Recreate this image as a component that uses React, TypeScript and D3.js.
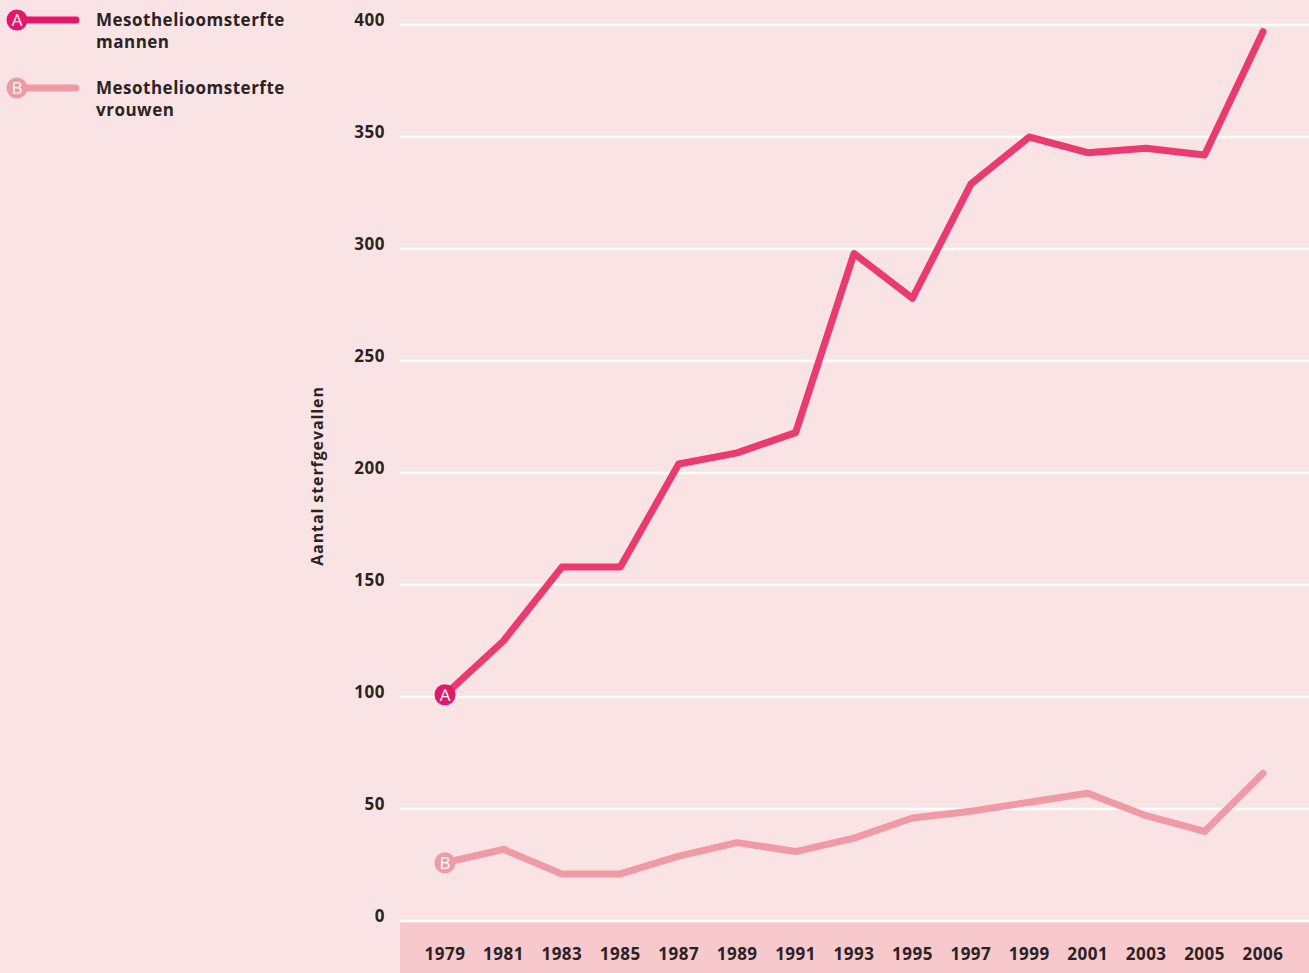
import React, { useEffect, useRef } from "react";
import * as d3 from "d3";

const years = ["1979", "1981", "1983", "1985", "1987", "1989", "1991", "1993", "1995", "1997", "1999", "2001", "2003", "2005", "2006"];
const mannen = [101, 125, 158, 158, 204, 209, 218, 298, 278, 329, 350, 343, 345, 342, 397];
const vrouwen = [26, 32, 21, 21, 29, 35, 31, 37, 46, 49, 53, 57, 47, 40, 66];
const yTicks = [0, 50, 100, 150, 200, 250, 300, 350, 400];

const W = 1309;
const H = 973;
const FONT = "'Open Sans', Lato, sans-serif";
const BG = "#fae3e4";
const BAND = "#f7c9cd";
const COL_A = "#ea3a70";
const DOT_A = "#e5176a";
const COL_B = "#f09aa6";
const TEXT = "#2a2326";

const App = () => {
  const ref = useRef<SVGSVGElement>(null);

  useEffect(() => {
    const svg = d3.select(ref.current);
    svg.selectAll("*").remove();

    const left = 400;
    const right = W;
    const y = d3.scaleLinear().domain([0, 400]).range([921, 25]);
    const x = d3.scalePoint().domain(years).range([445, 1263]);

    svg.append("rect").attr("width", W).attr("height", H).attr("fill", BG);
    svg.append("rect").attr("x", left).attr("y", y(0)).attr("width", right - left).attr("height", H - y(0)).attr("fill", BAND);

    // gridlines
    svg
      .selectAll(".grid")
      .data(yTicks)
      .enter()
      .append("line")
      .attr("x1", left)
      .attr("x2", right)
      .attr("y1", (d) => y(d))
      .attr("y2", (d) => y(d))
      .attr("stroke", "#fff")
      .attr("stroke-width", 2.6);

    svg
      .selectAll(".ytick")
      .data(yTicks)
      .enter()
      .append("text")
      .attr("x", 385)
      .attr("y", (d) => y(d) + 1)
      .attr("text-anchor", "end")
      .attr("font-family", FONT)
      .attr("font-weight", 700)
      .attr("font-size", 17)
      .attr("letter-spacing", 0.5)
      .attr("fill", TEXT)
      .text((d) => d);

    svg
      .selectAll(".xtick")
      .data(years)
      .enter()
      .append("text")
      .attr("x", (d) => x(d)!)
      .attr("y", 960)
      .attr("text-anchor", "middle")
      .attr("font-family", FONT)
      .attr("font-weight", 700)
      .attr("font-size", 17)
      .attr("letter-spacing", 0.5)
      .attr("fill", TEXT)
      .text((d) => d);

    svg
      .append("text")
      .attr("transform", `translate(323,476) rotate(-90)`)
      .attr("text-anchor", "middle")
      .attr("font-family", FONT)
      .attr("font-weight", 700)
      .attr("font-size", 16)
      .attr("letter-spacing", 0.9)
      .attr("fill", TEXT)
      .text("Aantal sterfgevallen");

    const line = d3
      .line<number>()
      .x((_, i) => x(years[i])!)
      .y((d) => y(d));

    const series = [
      { vals: vrouwen, col: COL_B, dot: COL_B, label: "B" },
      { vals: mannen, col: COL_A, dot: DOT_A, label: "A" },
    ];

    series.forEach((s) => {
      svg
        .append("path")
        .attr("d", line(s.vals))
        .attr("fill", "none")
        .attr("stroke", s.col)
        .attr("stroke-width", 7)
        .attr("stroke-linejoin", "round")
        .attr("stroke-linecap", "round");
      svg.append("circle").attr("cx", x(years[0])!).attr("cy", y(s.vals[0])).attr("r", 10.5).attr("fill", s.dot);
      svg
        .append("text")
        .attr("x", x(years[0])!)
        .attr("y", y(s.vals[0]) + 6)
        .attr("text-anchor", "middle")
        .attr("font-family", FONT)
        .attr("font-size", 17)
        .attr("fill", "#fff")
        .text(s.label);
    });

    // legend
    const legend = [
      { label: "A", col: DOT_A, bar: DOT_A, lines: ["Mesothelioomsterfte", "mannen"], y: 20 },
      { label: "B", col: COL_B, bar: COL_B, lines: ["Mesothelioomsterfte", "vrouwen"], y: 88 },
    ];
    legend.forEach((l) => {
      svg
        .append("line")
        .attr("x1", 17)
        .attr("x2", 76)
        .attr("y1", l.y)
        .attr("y2", l.y)
        .attr("stroke", l.bar)
        .attr("stroke-width", 7)
        .attr("stroke-linecap", "round");
      svg.append("circle").attr("cx", 17).attr("cy", l.y).attr("r", 10.5).attr("fill", l.col);
      svg
        .append("text")
        .attr("x", 17)
        .attr("y", l.y + 6)
        .attr("text-anchor", "middle")
        .attr("font-family", FONT)
        .attr("font-size", 17)
        .attr("fill", "#fff")
        .text(l.label);
      l.lines.forEach((t, i) => {
        svg
          .append("text")
          .attr("x", 96)
          .attr("y", l.y + 6 + i * 22)
          .attr("font-family", FONT)
          .attr("font-weight", 700)
          .attr("font-size", 17)
          .attr("letter-spacing", 0.5)
          .attr("fill", TEXT)
          .text(t);
      });
    });
  }, []);

  return <svg ref={ref} width={W} height={H} style={{ display: "block", position: "absolute", left: 0, top: 0 }}></svg>;
};

export default App;
